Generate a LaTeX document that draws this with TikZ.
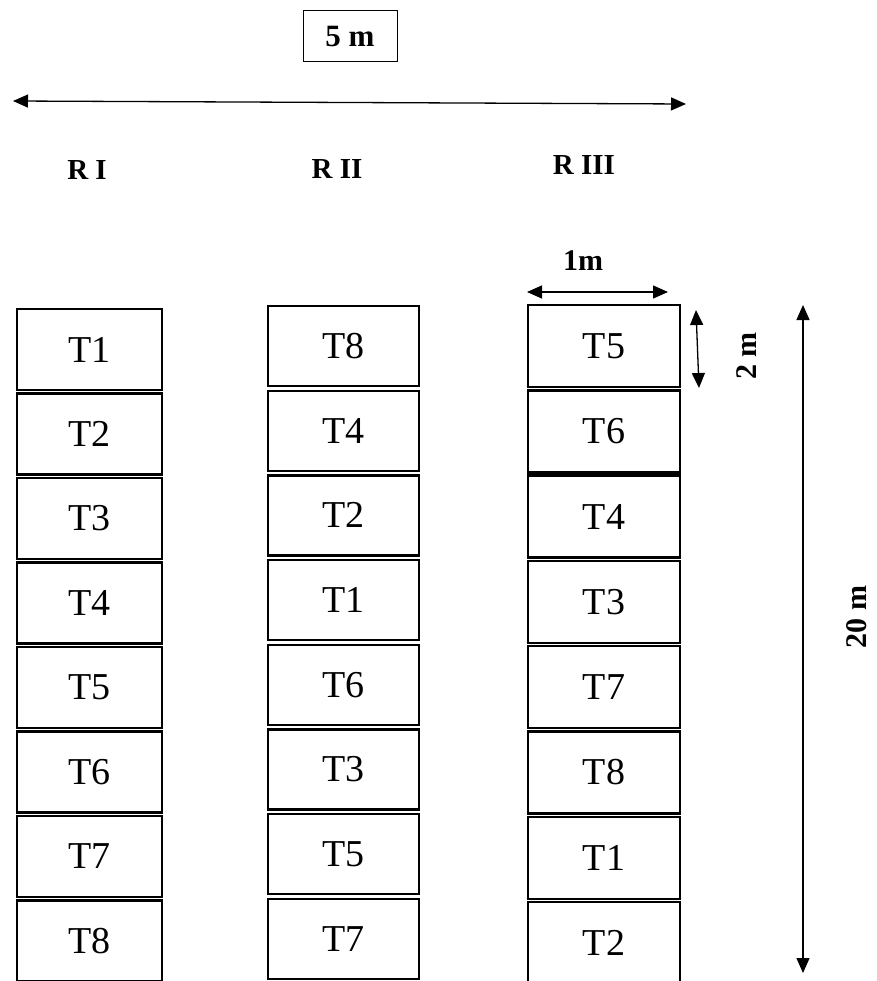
\documentclass[tikz,border=0pt]{standalone}
\usepackage{fontspec}
\setmainfont{Liberation Serif}
\usetikzlibrary{arrows.meta}
\begin{document}
\begin{tikzpicture}[x=1pt,y=-1pt,
  plotbox/.style={draw, line width=2.4pt, inner sep=0pt, font=\fontsize{38}{40}\selectfont},
  cola/.style={plotbox, minimum width=145pt, minimum height=81pt},
  colb/.style={plotbox, minimum width=151pt, minimum height=80pt},
  colc/.style={plotbox, minimum width=152pt, minimum height=82pt},
  replabel/.style={font=\fontsize{29}{31}\selectfont\bfseries},
  dimlabel/.style={font=\fontsize{30}{32}\selectfont\bfseries},
  dimarrow/.style={line width=1.3pt, {Triangle[length=15pt,width=13pt]}-{Triangle[length=15pt,width=13pt]}}
]
\useasboundingbox (0,0) rectangle (876,981);
\fill[white] (0,0) rectangle (876,981);

% top label and arrow
\node[draw, line width=1pt, minimum width=94pt, minimum height=51pt, inner sep=0pt,
      font=\fontsize{31}{33}\selectfont\bfseries] (fivem) at (350,36.5) {5 m};
\coordinate (wl) at (13,101);
\coordinate (wr) at (686,104);
\draw[dimarrow] (wl) -- (wr);

% replication labels
\node[replabel] (r1) at (87,170) {R I};
\node[replabel] (r2) at (337,169) {R II};
\node[replabel] (r3) at (584,165) {R III};

% column I
\foreach \t [count=\i from 0] in {T1,T2,T3,T4,T5,T6,T7,T8}
  \node[cola] (a\i) at (89.5,349.5+84.5*\i) {\t};
% column II
\foreach \t [count=\i from 0] in {T8,T4,T2,T1,T6,T3,T5,T7}
  \node[colb] (b\i) at (343.5,346+84.7*\i) {\t};
% column III
\foreach \t [count=\i from 0] in {T5,T6,T4,T3,T7,T8,T1,T2}
  \node[colc] (c\i) at (604,346+85.3*\i) {\t};

% 1 m dimension
\node[dimlabel] (onem) at (583,261) {1m};
\coordinate (ol) at (527,292);
\coordinate (or) at (668,292);
\draw[dimarrow] (ol) -- (or);

% 2 m dimension
\coordinate (tt) at (696,310);
\coordinate (tb) at (699,388);
\draw[dimarrow] (tt) -- (tb);
\node[dimlabel, rotate=90] (twom) at (747,356) {2 m};

% 20 m dimension
\coordinate (lt) at (803,305);
\coordinate (lb) at (803,973);
\draw[dimarrow] (lt) -- (lb);
\node[dimlabel, rotate=90] (twentym) at (857,617) {20 m};
\end{tikzpicture}
\end{document}
